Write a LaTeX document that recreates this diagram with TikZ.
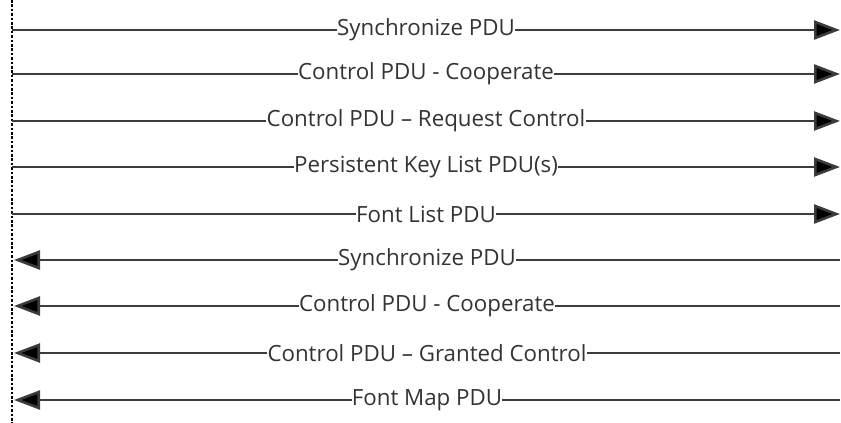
\documentclass[tikz,border=0pt]{standalone}
\usepackage{fontspec}
\setmainfont{Open Sans}
\usetikzlibrary{arrows.meta}
\definecolor{linegray}{HTML}{3C3C3C}
\definecolor{textgray}{HTML}{333333}
\tikzset{
  msg/.style={draw=linegray, line width=2.6pt, -{Triangle[length=26pt,width=19pt,fill=black]}},
  lbl/.style={fill=white, inner xsep=0.3pt, inner ysep=1pt, text=textgray,
              font=\fontsize{22.3}{25}\selectfont},
  lifeline/.style={draw=black, line width=1.7pt, dash pattern=on 2.6pt off 1.8pt}
}
\begin{document}
\begin{tikzpicture}[x=1pt,y=-1pt]
\useasboundingbox (0,0) rectangle (841,423);
% client lifeline
\coordinate (top) at (12,0);
\coordinate (bot) at (12,423);
\draw[lifeline] (top) -- (bot);
% client -> server
\foreach \i/\y in {1/30,2/74,3/121,4/167,5/214}{
  \coordinate (cl\i) at (12,\y);
  \coordinate (sv\i) at (840,\y);
}
\draw[msg] (cl1) -- node[lbl]{Synchronize PDU} (sv1);
\draw[msg] (cl2) -- node[lbl]{Control PDU - Cooperate} (sv2);
\draw[msg] (cl3) -- node[lbl]{Control PDU – Request Control} (sv3);
\draw[msg] (cl4) -- node[lbl]{Persistent Key List PDU(s)} (sv4);
\draw[msg] (cl5) -- node[lbl]{Font List PDU} (sv5);
% server -> client
\foreach \i/\y in {6/260,7/306,8/353,9/400}{
  \coordinate (cl\i) at (14,\y);
  \coordinate (sv\i) at (840,\y);
}
\draw[msg] (sv6) -- node[lbl]{Synchronize PDU} (cl6);
\draw[msg] (sv7) -- node[lbl]{Control PDU - Cooperate} (cl7);
\draw[msg] (sv8) -- node[lbl]{Control PDU – Granted Control} (cl8);
\draw[msg] (sv9) -- node[lbl]{Font Map PDU} (cl9);
\end{tikzpicture}
\end{document}
